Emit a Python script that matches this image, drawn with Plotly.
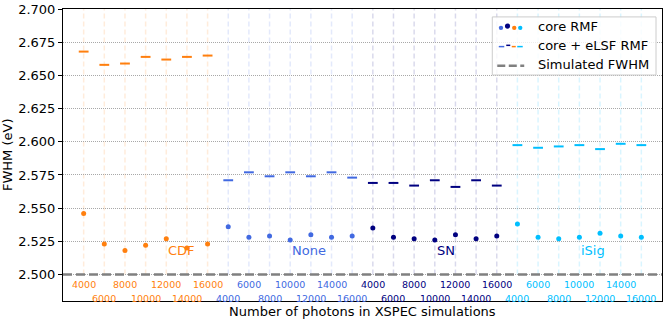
import numpy as np
import plotly.graph_objects as go

# Simulation grid and results
PHOTONS = [4000, 6000, 8000, 10000, 12000, 14000, 16000]
METHODS = ["CDF", "None", "SN", "iSig"]
COLORS = ["#ff7f0e", "#4169e1", "#000080", "#00bfff"]

CORE_CDF = [2.546, 2.523, 2.518, 2.522, 2.527, 2.520, 2.523]
CORE_NONE = [2.536, 2.528, 2.529, 2.526, 2.530, 2.528, 2.529]
CORE_SN = [2.535, 2.528, 2.527, 2.526, 2.530, 2.527, 2.529]
CORE_ISIG = [2.538, 2.528, 2.527, 2.528, 2.531, 2.529, 2.528]

ELSF_CDF = [2.668, 2.658, 2.659, 2.664, 2.662, 2.664, 2.665]
ELSF_NONE = [2.571, 2.577, 2.574, 2.577, 2.574, 2.577, 2.573]
ELSF_SN = [2.569, 2.569, 2.567, 2.571, 2.566, 2.571, 2.567]
ELSF_ISIG = [2.5975, 2.5955, 2.5965, 2.5975, 2.5945, 2.5985, 2.5975]

SIM_FWHM = 2.5
Y_TICKS = [2.500, 2.525, 2.550, 2.575, 2.600, 2.625, 2.650, 2.675, 2.700]

CORE = [CORE_CDF, CORE_NONE, CORE_SN, CORE_ISIG]
ELSF = [ELSF_CDF, ELSF_NONE, ELSF_SN, ELSF_ISIG]

# layout constants
W, H = 665, 320
ML, MR, MT, MB = 63, 2, 6, 19
YMIN, YMAX = 2.48, 2.7001
XMIN, XMAX = -1, 28
FONT = "DejaVu Sans"
LABEL_X = [4, 10, 17, 24]  # left edge of the method labels (index units)


def px(x):
    return (x - ML) / (W - ML - MR)


def py(y):
    return (H - MB - y) / (H - MT - MB)


def rgba(hexcol, a):
    h = hexcol.lstrip("#")
    r, g, b = int(h[0:2], 16), int(h[2:4], 16), int(h[4:6], 16)
    return f"rgba({r},{g},{b},{a})"


fig = go.Figure()
shapes = []
annotations = []

n = len(PHOTONS)
for k, (method, col) in enumerate(zip(METHODS, COLORS)):
    xs = np.arange(n) + k * n
    # faint vertical guide lines
    for x in xs:
        shapes.append(dict(type="line", xref="x", yref="y", x0=x, x1=x,
                           y0=SIM_FWHM, y1=YMAX, layer="below",
                           line=dict(color=rgba(col, 0.15), width=1.5, dash="5px,3px")))
    fig.add_trace(go.Scatter(x=xs, y=CORE[k], mode="markers", showlegend=False,
                             marker=dict(color=col, size=5, symbol="circle")))
    fig.add_trace(go.Scatter(x=xs, y=ELSF[k], mode="markers", showlegend=False,
                             marker=dict(symbol="line-ew", size=7,
                                         line=dict(color=col, width=2))))
    # photon-count labels, alternating on two rows
    for x, p in zip(xs, PHOTONS):
        row = int(x) % 2
        annotations.append(dict(x=x, y=2.4925 if row == 0 else 2.482, xref="x", yref="y",
                                text=str(p), showarrow=False, xanchor="center",
                                yanchor="middle",
                                font=dict(family=FONT, size=9.5, color=col)))
    annotations.append(dict(x=LABEL_X[k], y=2.518, xref="x", yref="y", text=method,
                            showarrow=False, xanchor="left", yanchor="middle",
                            font=dict(family=FONT, size=13, color=col)))

fig.add_trace(go.Scatter(x=[XMIN, XMAX], y=[SIM_FWHM, SIM_FWHM], mode="lines",
                         showlegend=False,
                         line=dict(color="#808080", width=2.5, dash="9px,4px")))

# hand-built legend (multi-coloured handles)
shapes.append(dict(type="rect", xref="paper", yref="paper", x0=px(493), x1=px(657),
                   y0=py(72.7), y1=py(14), layer="above",
                   line=dict(color="#cccccc", width=1), fillcolor="rgba(255,255,255,0.8)"))
leg_cols = [COLORS[1], COLORS[2], COLORS[0], COLORS[3]]
dot_x = [501.7, 508.3, 515, 521]
dash_x = [(499.5, 505), (507, 511), (512.5, 516.5), (518, 523.5)]
for i, c in enumerate(leg_cols):
    yy = 23.3 if i == 1 else 25
    r = 2.6 if i == 1 else 2.2
    shapes.append(dict(type="circle", xref="paper", yref="paper",
                       x0=px(dot_x[i] - r), x1=px(dot_x[i] + r),
                       y0=py(yy + r), y1=py(yy - r), layer="above",
                       fillcolor=c, line=dict(width=0)))
    yy = 42.7 if i == 1 else 44
    shapes.append(dict(type="line", xref="paper", yref="paper",
                       x0=px(dash_x[i][0]), x1=px(dash_x[i][1]), y0=py(yy), y1=py(yy),
                       layer="above", line=dict(color=c, width=1.5)))
shapes.append(dict(type="line", xref="paper", yref="paper", x0=px(498), x1=px(525),
                   y0=py(63.3), y1=py(63.3), layer="above",
                   line=dict(color="#808080", width=2.5, dash="8px,3.5px")))
for txt, yy in zip(["core RMF", "core + eLSF RMF", "Simulated FWHM"], [24, 43, 62]):
    annotations.append(dict(x=px(536.5), y=py(yy), xref="paper", yref="paper", text=txt,
                            showarrow=False, xanchor="left", yanchor="middle",
                            font=dict(family=FONT, size=13, color="black")))

# axis titles
annotations.append(dict(x=0.5, y=0, xref="paper", yref="paper", yshift=-10,
                        text="Number of photons in XSPEC simulations", showarrow=False,
                        xanchor="center", yanchor="middle",
                        font=dict(family=FONT, size=13, color="black")))
annotations.append(dict(x=0, y=0.5, xref="paper", yref="paper", xshift=-56,
                        text="FWHM (eV)", textangle=-90, showarrow=False,
                        xanchor="center", yanchor="middle",
                        font=dict(family=FONT, size=13, color="black")))

fig.update_layout(
    width=W, height=H,
    margin=dict(l=ML, r=MR, t=MT, b=MB),
    paper_bgcolor="white", plot_bgcolor="white",
    font=dict(family=FONT, size=13, color="black"),
    shapes=shapes, annotations=annotations,
    xaxis=dict(range=[XMIN, XMAX], showgrid=False, zeroline=False,
               showticklabels=False, ticks="", showline=True, mirror=True,
               linecolor="black", linewidth=1),
    yaxis=dict(range=[YMIN, YMAX], tickmode="array", tickvals=Y_TICKS,
               ticktext=[f"{v:.3f}" for v in Y_TICKS], ticklabeloverflow="allow",
               showgrid=True, gridcolor="#a8a8a8", griddash="1px,1px", gridwidth=1,
               zeroline=False, ticks="outside", ticklen=4, tickcolor="black",
               showline=True, mirror=True, linecolor="black", linewidth=1,
               tickfont=dict(family=FONT, size=13, color="black")),
)

# drop the default page margin so the chart sits at the window origin
fig.write_html("out.html", config={"displayModeBar": False},
               post_script="document.body.style.margin='0';")
